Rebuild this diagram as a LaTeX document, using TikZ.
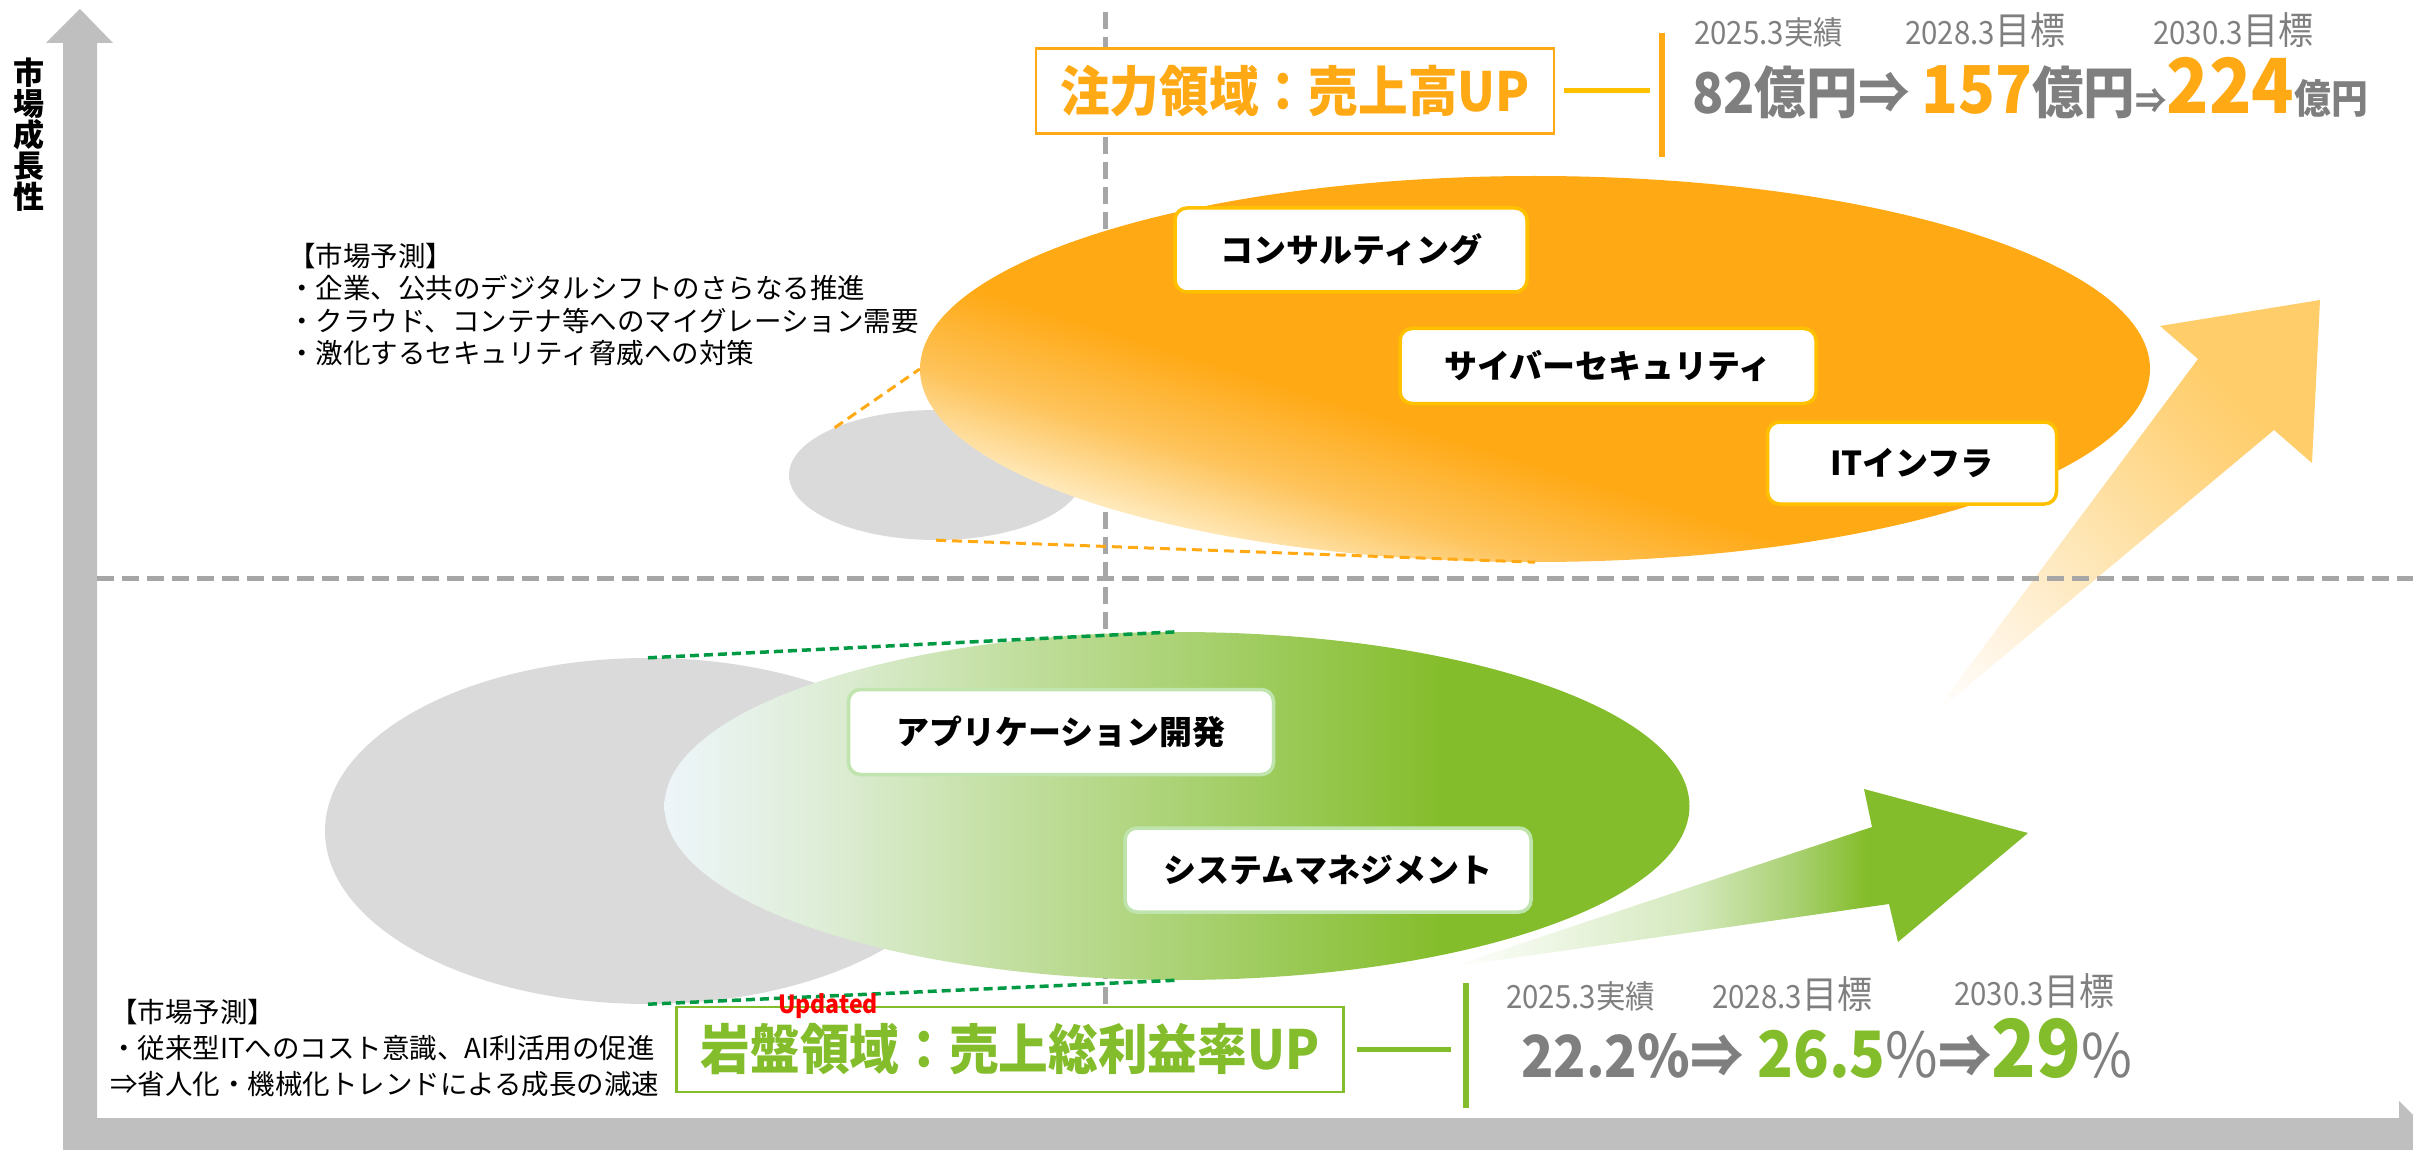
\documentclass[tikz,border=0pt]{standalone}
\usepackage{fontspec}
\setmainfont{Noto Sans CJK JP}
\newfontfamily\jpc[FakeStretch=0.92]{Noto Sans CJK JP}
\usetikzlibrary{shapes.geometric,positioning}

\definecolor{axisgray}{HTML}{BFBFBF}
\definecolor{dashgray}{HTML}{A6A6A6}
\definecolor{blobgray}{HTML}{DADADA}
\definecolor{focusor}{HTML}{FFA915}
\definecolor{focusmid}{HTML}{FEC35A}
\definecolor{focuslt}{HTML}{FFF0CC}
\definecolor{boxor}{HTML}{FFC000}
\definecolor{riseor}{HTML}{FFCD69}
\definecolor{rockgr}{HTML}{84BD2B}
\definecolor{rocklt}{HTML}{EEF5FA}
\definecolor{boxgr}{HTML}{BFE4AE}
\definecolor{dashgr}{HTML}{009A44}
\definecolor{numgray}{HTML}{7F7F7F}

\pgfdeclarehorizontalshading{focusfade}{100bp}{color(0bp)=(focuslt); color(39.5bp)=(focuslt); color(43bp)=(focusmid); color(46.5bp)=(focusor); color(100bp)=(focusor)}
\pgfdeclarehorizontalshading{rockfade}{100bp}{color(0bp)=(rocklt); color(25bp)=(rocklt); color(33bp)=(rgb,255:red,221;green,237;blue,213); color(41bp)=(rgb,255:red,197;green,224;blue,165); color(52bp)=(rgb,255:red,165;green,207;blue,106); color(63bp)=(rockgr); color(100bp)=(rockgr)}
\pgfdeclarehorizontalshading{risefade}{100bp}{color(0bp)=(white); color(15bp)=(white); color(27bp)=(rgb,255:red,255;green,244;blue,226); color(43bp)=(rgb,255:red,254;green,230;blue,181); color(63bp)=(rgb,255:red,255;green,210;blue,122); color(70bp)=(riseor); color(100bp)=(riseor)}
\pgfdeclarehorizontalshading{pushfade}{100bp}{color(0bp)=(white); color(25bp)=(white); color(46bp)=(rgb,255:red,213;green,233;blue,190); color(55bp)=(rgb,255:red,168;green,208;blue,112); color(61bp)=(rockgr); color(100bp)=(rockgr)}

\begin{document}
\begin{tikzpicture}[x=1pt, y=-1pt,
  blob/.style={ellipse, inner sep=0pt, fill=blobgray},
  svcbox/.style={draw=#1, fill=white, rounded corners=12pt, line width=3.5pt, inner sep=0pt, font=\fontsize{33}{33}\selectfont\bfseries},
  titlebox/.style={draw=#1, line width=2.5pt, fill=white, text=#1, inner sep=0pt, font=\jpc\fontsize{54}{54}\selectfont\bfseries},
  yearlbl/.style={anchor=base west, inner sep=0pt, text=numgray, font=\jpc\fontsize{32}{32}\selectfont},
  midline/.style={dashgray, line width=5pt, dash pattern=on 17pt off 8pt},
  orangedash/.style={focusor, line width=3pt, dash pattern=on 10pt off 6pt},
  greendash/.style={dashgr, line width=3.5pt, dash pattern=on 9pt off 5pt},
  memo/.style={anchor=north west, inner sep=0pt, align=left, font=\fontsize{27.5}{32.5}\selectfont}]
\useasboundingbox (0,0) rectangle (2413,1150);

\fill[axisgray] (63,1151) -- (63,43) -- (46,43) -- (80,9) -- (113,43) -- (97,43) -- (97,1118)
  -- (2399,1118) -- (2399,1101) -- (2433,1134.5) -- (2399,1168) -- (2399,1151) -- cycle;
\node[font=\fontsize{31}{31}\selectfont\bfseries, align=center, inner sep=0pt] (growth) at (29,135) {市\\場\\成\\長\\性};

\draw[midline] (1105,12) -- (1105,1005);

\node[blob, minimum width=294pt, minimum height=130pt] (oldinfra) at (936,475) {};
\node[blob, minimum width=646pt, minimum height=346pt] (oldapp) at (648,831) {};
\node[ellipse, inner sep=0pt, minimum width=1230pt, minimum height=386pt] (focus) at (1535,369) {};
\begin{scope}
  \clip (focus.center) ellipse [x radius=615pt, y radius=193pt];
  \shade[shading=focusfade, shading angle=72.6] (885,-281) rectangle (2185,1019);
\end{scope}
\node[ellipse, inner sep=0pt, minimum width=1025pt, minimum height=348pt, shading=rockfade] (rock) at (1177,806) {};

\draw[orangedash] (oldinfra.155) -- (focus.west);
\draw[orangedash] (oldinfra.south) -- (focus.south);
\draw[greendash] (oldapp.north) -- (rock.north);
\draw[greendash] (oldapp.south) -- (rock.south);

\node[svcbox=boxor, minimum width=352pt, minimum height=84pt] (consult) at (1351,250) {コンサルティング};
\node[svcbox=boxor, minimum width=416pt, minimum height=75pt] (cyber) at (1608,366) {サイバーセキュリティ};
\node[svcbox=boxor, minimum width=289pt, minimum height=82pt] (infra) at (1912,463) {ITインフラ};
\node[svcbox=boxgr, minimum width=425pt, minimum height=85pt] (appdev) at (1061,732) {アプリケーション開発};
\node[svcbox=boxgr, minimum width=406pt, minimum height=84pt] (sysmgmt) at (1328,870) {システムマネジメント};

\shade[shading=risefade, shading angle=45] (1932,716) -- (2198,359) -- (2160,326) -- (2320,300) -- (2312,463) -- (2274,430) -- cycle;
\shade[shading=pushfade] (1450,967) -- (1872,827) -- (1864,789) -- (2028,833) -- (1898,942) -- (1889,904) -- cycle;

\draw[midline] (97,578) -- (2413,578);

\node[memo] (infranote) at (288,243) {【市場予測】\\・企業、公共のデジタルシフトのさらなる推進\\・クラウド、コンテナ等へのマイグレーション需要\\・激化するセキュリティ脅威への対策};
\node[memo, font=\fontsize{27.5}{36}\selectfont] (appnote) at (110,999) {【市場予測】\\・従来型ITへのコスト意識、AI利活用の促進\\⇒省人化・機械化トレンドによる成長の減速};

\node[titlebox=focusor, minimum width=518pt, minimum height=85pt] (focustitle) at (1295,91) {注力領域：売上高UP};
\node[fill=focusor, inner sep=0pt, minimum width=6pt, minimum height=124pt] (focusbar) at (1662,95) {};
\draw[boxor, line width=5pt, shorten <=9pt, shorten >=9pt] (focustitle.east) -- (focustitle.east -| focusbar.west);
\node[yearlbl] (fy25) at (1694,45) {2025.3実績};
\node[yearlbl] (fy28) at (1905,45) {2028.3{\fontsize{38}{38}\selectfont 目標}};
\node[yearlbl] (fy30) at (2153,45) {2030.3{\fontsize{38}{38}\selectfont 目標}};
\node[anchor=base west, inner sep=0pt, text=numgray, font=\jpc\bfseries] (salesgoal) at (1692,114) {{\fontsize{56}{56}\selectfont 82億円⇒}\hspace{12pt}{\fontsize{66}{66}\selectfont\color{focusor}157}{\fontsize{56}{56}\selectfont 億円}{\fontsize{34}{34}\selectfont ⇒}{\fontsize{76}{76}\selectfont\color{focusor}224}{\fontsize{40}{40}\selectfont 億円}};

\node[titlebox=rockgr, minimum width=667pt, minimum height=85pt] (rocktitle) at (1010,1049.5) {岩盤領域：売上総利益率UP};
\node[text=red, inner sep=0pt, font=\jpc\bfseries\fontsize{25}{25}\selectfont] (updated) at (828,1006) {Updated};
\node[fill=rockgr, inner sep=0pt, minimum width=6pt, minimum height=125pt] (rockbar) at (1466,1045.5) {};
\draw[rockgr, line width=5pt, shorten <=12pt, shorten >=12pt] (rocktitle.east) -- (rocktitle.east -| rockbar.west);
\node[yearlbl] (gy25) at (1506,1008) {2025.3実績};
\node[yearlbl] (gy28) at (1712,1008) {2028.3{\fontsize{38}{38}\selectfont 目標}};
\node[yearlbl] (gy30) at (1954,1005) {2030.3{\fontsize{38}{38}\selectfont 目標}};
\node[anchor=base west, inner sep=0pt, text=numgray, font=\jpc\bfseries] (margingoal) at (1521,1077) {{\fontsize{58}{58}\selectfont 22.2\%⇒}\hspace{14pt}{\fontsize{64}{64}\selectfont\color{rockgr}26.5}{\fontsize{62}{62}\selectfont\mdseries\%}{\fontsize{58}{58}\selectfont ⇒}{\fontsize{80}{80}\selectfont\color{rockgr}29}{\fontsize{60}{60}\selectfont\mdseries\%}};
\end{tikzpicture}
\end{document}
